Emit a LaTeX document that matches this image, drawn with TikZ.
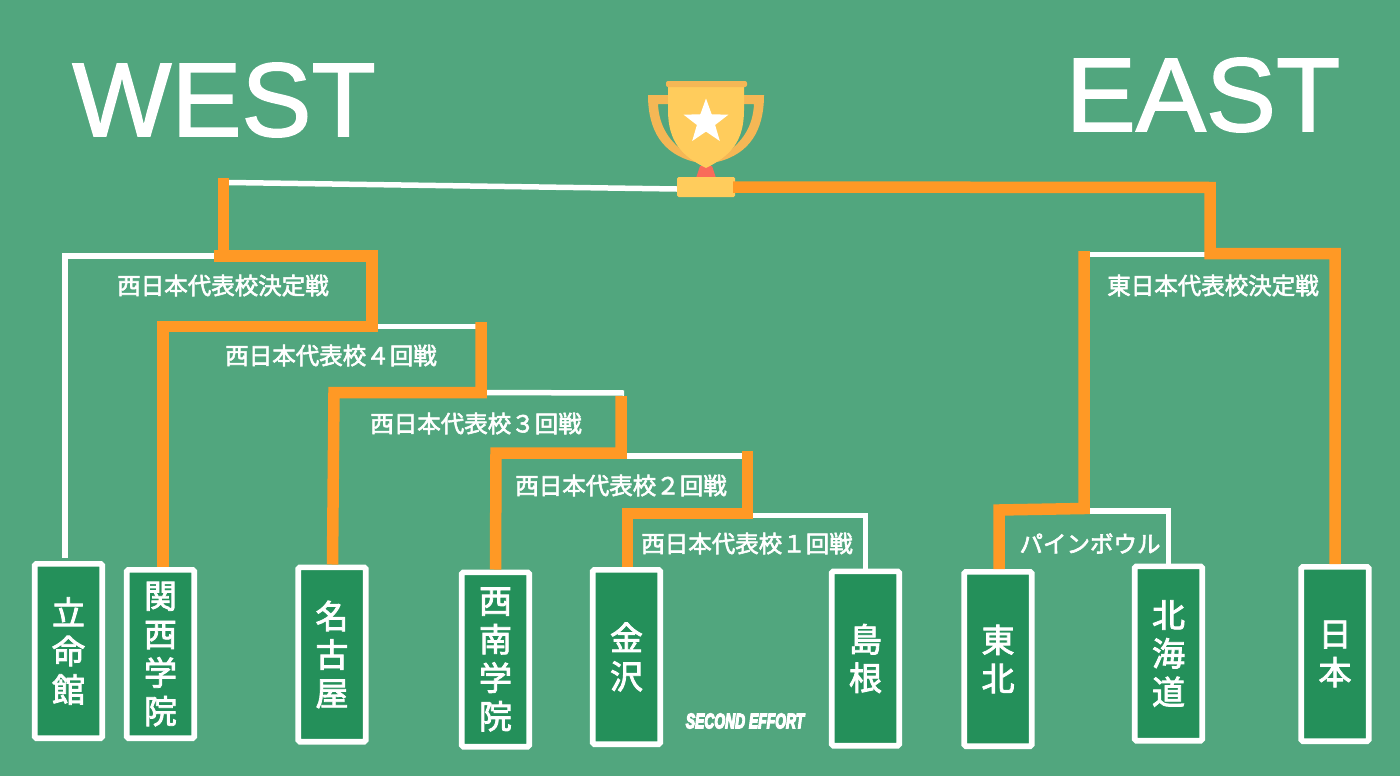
\documentclass[tikz,border=0pt]{standalone}
\usepackage{fontspec}
\setmainfont{Liberation Sans}
\newfontfamily\titlefont[FakeBold=1.5]{Liberation Sans}
\newfontfamily\creditfont[UprightFont={* Bold Italic},FakeBold=7]{Liberation Sans}
\newfontfamily\jpfont[FakeBold=2.5]{Noto Sans CJK JP}
\usetikzlibrary{shapes.geometric}
\definecolor{fieldgreen}{HTML}{51A67E}
\definecolor{boxgreen}{HTML}{24905A}
\definecolor{winorange}{HTML}{FF9925}
\definecolor{cupyellow}{HTML}{FFCC5C}
\definecolor{cupshade}{HTML}{F5B755}
\definecolor{cupred}{HTML}{F96B5A}
\tikzset{
  schoolbox/.style={draw=white,fill=boxgreen,line width=5.7pt,rounded corners=1.5pt,minimum width=67.5pt,minimum height=174.3pt,
    inner sep=0pt,text=white,align=center,font=\jpfont\fontsize{33}{38.5}\selectfont},
  winpath/.style={draw=winorange,line width=11.5pt},
  losepath/.style={draw=white,line width=5.5pt},
  roundlabel/.style={text=white,inner sep=0pt,font=\jpfont\fontsize{23.5}{26}\selectfont},
  sidetitle/.style={text=white,inner sep=0pt,font=\titlefont\fontsize{105}{110}\selectfont}
}
\begin{document}
\begin{tikzpicture}[x=1pt,y=-1pt]
  \fill[fieldgreen] (0,0) rectangle (1400,776);
  \useasboundingbox (0,0) rectangle (1400,776);
  \node[sidetitle] (west) at (224,100) {WEST};
  \node[sidetitle] (east) at (1203,95) {EAST};
  % trophy
  \fill[cupshade] (648,95) -- (668,95) -- (668,104) -- (658,104) .. controls (659,125) and (668,142) .. (690,156) -- (695,162) .. controls (662,154) and (648,130) .. cycle;
  \fill[cupshade] (764,95) -- (744,95) -- (744,104) -- (754,104) .. controls (753,125) and (744,142) .. (722,156) -- (717,162) .. controls (750,154) and (764,130) .. cycle;
  \fill[cupred] (700,166) -- (712,166) -- (716,178) -- (696,178) -- cycle;
  \fill[cupyellow] (668,86) -- (744,86) -- (744,110) .. controls (744,142) and (730,156) .. (706,168) .. controls (682,156) and (668,142) .. (668,110) -- cycle;
  \fill[cupshade,rounded corners=2pt] (666,81) rectangle (747,87);
  \node[star,star points=5,star point ratio=2.45,fill=white,inner sep=0pt,minimum size=47pt] (cupstar) at (706,122) {};
  \node[fill=cupyellow,rounded corners=1.5pt,minimum width=58pt,minimum height=20pt,inner sep=0pt] (cupbase) at (706,187) {};
  % schools
  \node[schoolbox] (ritsumei) at (68.5,651) {立\\命\\館};
  \node[schoolbox,minimum height=168.3pt] (kangaku) at (160.5,654) {関\\西\\学\\院};
  \node[schoolbox] (nagoya) at (332,654.5) {名\\古\\屋};
  \node[schoolbox] (seinan) at (495.5,659.5) {西\\南\\学\\院};
  \node[schoolbox] (kanazawa) at (626.5,657) {金\\沢};
  \node[schoolbox] (shimane) at (865.5,658.5) {島\\根};
  \node[schoolbox] (tohoku) at (998,659) {東\\北};
  \node[schoolbox] (hokkai) at (1168.5,653.5) {北\\海\\道};
  \node[schoolbox] (nihon) at (1335,654) {日\\本};
  % junctions
  \coordinate (westtop) at (223.5,178);
  \coordinate (westfin) at (223.5,256);
  \coordinate (west4) at (372,326.5);
  \coordinate (west3) at (481,392.5);
  \coordinate (west2) at (621,456);
  \coordinate (west1) at (747.5,515.5);
  \coordinate (eastfin) at (1210,254.5);
  \coordinate (eastup) at (1084,254.5);
  \coordinate (pine) at (1084,511);
  % white
  \draw[losepath] (229,182.5) -- ([yshift=-2pt]cupbase.west);
  \draw[losepath] (65,558) -- (65,256) -- (westfin);
  \draw[losepath] (west4) -- (481,326.5);
  \draw[losepath] (west3) -- (624,393);
  \draw[losepath] (west2) -- (747.5,456);
  \draw[losepath] (west1) -- (865.5,515.5) -- (865.5,0 |- shimane.north);
  \draw[losepath] (eastfin) -- (eastup);
  \draw[losepath] (pine) -- (1168.5,511) -- (hokkai.north);
  % orange
  \draw[winpath] (westtop) -- (westfin);
  \draw[winpath] (214,256) -- (372,256) -- (west4) -- (163,326.5) -- (163,0 |- kangaku.north);
  \draw[winpath] (481,322) -- (481,392.5) -- (334,392.5) -- (332.5,0 |- nagoya.north);
  \draw[winpath] (621,396) -- (621,453) -- (496,453) -- (495.5,0 |- seinan.north);
  \draw[winpath] (747.5,451) -- (747.5,513.5) -- (627.5,513.5) -- (627.5,0 |- kanazawa.north);
  \draw[winpath] ([xshift=-2pt]cupbase.east) -- (1210,187.5) -- (1210,253.5) -- (1335,253.5) -- (nihon.north);
  \draw[winpath] (1084,251) -- (1084,508.5) -- (999,510) -- (999,0 |- tohoku.north);
  % labels
  \node[roundlabel] (finalw) at (223,285.5) {西日本代表校決定戦};
  \node[roundlabel] (r4) at (331,355.5) {西日本代表校４回戦};
  \node[roundlabel] (r3) at (476,423.5) {西日本代表校３回戦};
  \node[roundlabel] (r2) at (621,485.5) {西日本代表校２回戦};
  \node[roundlabel] (r1) at (747,543.5) {西日本代表校１回戦};
  \node[roundlabel] (finale) at (1213,285.5) {東日本代表校決定戦};
  \node[roundlabel] (pinebowl) at (1090,543.5) {パインボウル};
  \node[text=white,inner sep=0pt,xscale=.66,font=\creditfont\fontsize{21}{24}\selectfont] (credit) at (745,721) {SECOND EFFORT};
\end{tikzpicture}
\end{document}
